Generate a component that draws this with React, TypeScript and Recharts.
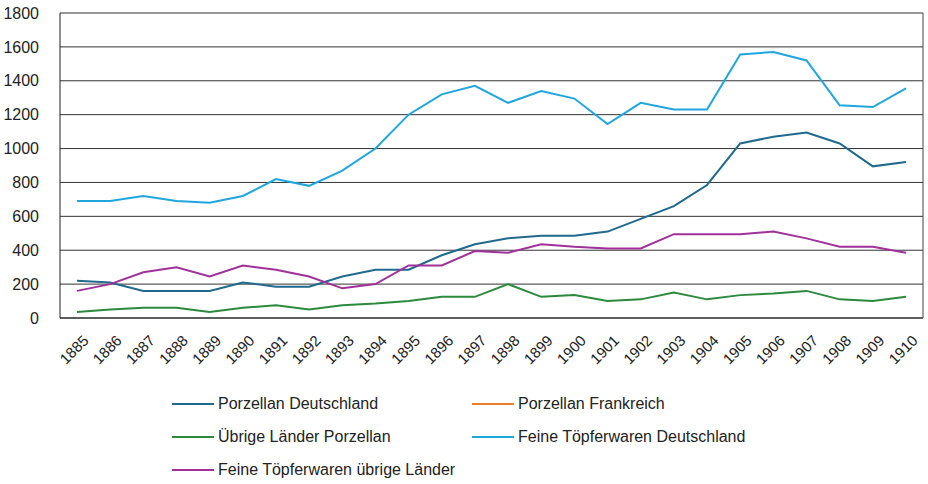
import { CartesianGrid, Legend, Line, LineChart, XAxis, YAxis } from "recharts";

const YEARS = [
  "1885", "1886", "1887", "1888", "1889", "1890", "1891", "1892", "1893",
  "1894", "1895", "1896", "1897", "1898", "1899", "1900", "1901", "1902",
  "1903", "1904", "1905", "1906", "1907", "1908", "1909", "1910",
];

const PORZELLAN_DE = [
  220, 210, 160, 160, 160, 210, 185, 185, 245, 285, 285, 370, 435, 470, 485,
  485, 510, 585, 660, 785, 1030, 1070, 1095, 1030, 895, 920,
];

// no visible line in the reference, only the legend entry
const PORZELLAN_FR: (number | null)[] = YEARS.map(() => null);

const UEBRIGE_PORZELLAN = [
  35, 50, 60, 60, 35, 60, 75, 50, 75, 85, 100, 125, 125, 200, 125, 135, 100,
  110, 150, 110, 135, 145, 160, 110, 100, 125,
];

const TOEPFER_DE = [
  690, 690, 720, 690, 680, 720, 820, 780, 870, 1000, 1200, 1320, 1370, 1270,
  1340, 1295, 1145, 1270, 1230, 1230, 1555, 1570, 1520, 1255, 1245, 1355,
];

const TOEPFER_UEBRIGE = [
  160, 200, 270, 300, 245, 310, 285, 245, 175, 200, 310, 310, 395, 385, 435,
  420, 410, 410, 495, 495, 495, 510, 470, 420, 420, 385,
];

const Y_TICKS = [0, 200, 400, 600, 800, 1000, 1200, 1400, 1600, 1800];

const SERIES = [
  { key: "pde", name: "Porzellan Deutschland", color: "#1f6a8e" },
  { key: "pfr", name: "Porzellan Frankreich", color: "#f07c30" },
  { key: "upz", name: "Übrige Länder Porzellan", color: "#2b8a3c" },
  { key: "tde", name: "Feine Töpferwaren Deutschland", color: "#1fa6df" },
  { key: "tue", name: "Feine Töpferwaren übrige Länder", color: "#a0309a" },
];

const data = YEARS.map((year, i) => ({
  year,
  pde: PORZELLAN_DE[i],
  pfr: PORZELLAN_FR[i],
  upz: UEBRIGE_PORZELLAN[i],
  tde: TOEPFER_DE[i],
  tue: TOEPFER_UEBRIGE[i],
}));

const FONT = "'Liberation Sans', Arial, sans-serif";

function YearTick({ x, y, payload }: any) {
  return (
    <g transform={`translate(${x + 5},${y + 8})`}>
      <text
        transform="rotate(-45)"
        textAnchor="end"
        dy="0.71em"
        fontSize={15}
        fontFamily={FONT}
        fill="#222"
      >
        {payload.value}
      </text>
    </g>
  );
}

function LegendBox() {
  const slots = [
    { left: 172, top: 26 },
    { left: 472, top: 26 },
    { left: 172, top: 59 },
    { left: 472, top: 59 },
    { left: 172, top: 92 },
  ];
  return (
    <div style={{ position: "relative", width: 928, height: 106 }}>
      {SERIES.map((s, i) => (
        <div
          key={s.key}
          style={{
            position: "absolute",
            left: slots[i].left,
            top: slots[i].top - 10,
            height: 20,
            display: "flex",
            alignItems: "center",
            fontFamily: FONT,
            fontSize: 16,
            color: "#222",
            whiteSpace: "nowrap",
          }}
        >
          <span
            style={{
              display: "inline-block",
              width: 42,
              height: 2,
              background: s.color,
              marginRight: 4,
            }}
          />
          {s.name}
        </div>
      ))}
    </div>
  );
}

export default function App() {
  return (
    <div style={{ position: "absolute", left: 0, top: 0, background: "#fff" }}>
      <LineChart
        width={928}
        height={484}
        data={data}
        margin={{ top: 13, right: 0, left: 0, bottom: 0 }}
      >
        <CartesianGrid horizontal vertical={false} stroke="#333" strokeWidth={1} />
        <XAxis
          dataKey="year"
          height={60}
          tick={<YearTick />}
          tickLine={false}
          axisLine={{ stroke: "#222" }}
          interval={0}
          padding={{ left: 17, right: 17 }}
        />
        <YAxis
          domain={[0, 1800]}
          ticks={Y_TICKS}
          width={60}
          tickLine={false}
          axisLine={{ stroke: "#222" }}
          tickMargin={15}
          tick={{ fontSize: 16, fontFamily: FONT, fill: "#222" }}
          interval={0}
        />
        <YAxis
          yAxisId="frame"
          orientation="right"
          width={5}
          tick={false}
          tickLine={false}
          axisLine={{ stroke: "#444" }}
        />
        <Legend
          verticalAlign="bottom"
          height={106}
          content={() => <LegendBox />}
        />
        {SERIES.map((s) => (
          <Line
            key={s.key}
            dataKey={s.key}
            name={s.name}
            stroke={s.color}
            strokeWidth={2}
            dot={false}
            activeDot={false}
            type="linear"
            isAnimationActive={false}
          />
        ))}
      </LineChart>
    </div>
  );
}
